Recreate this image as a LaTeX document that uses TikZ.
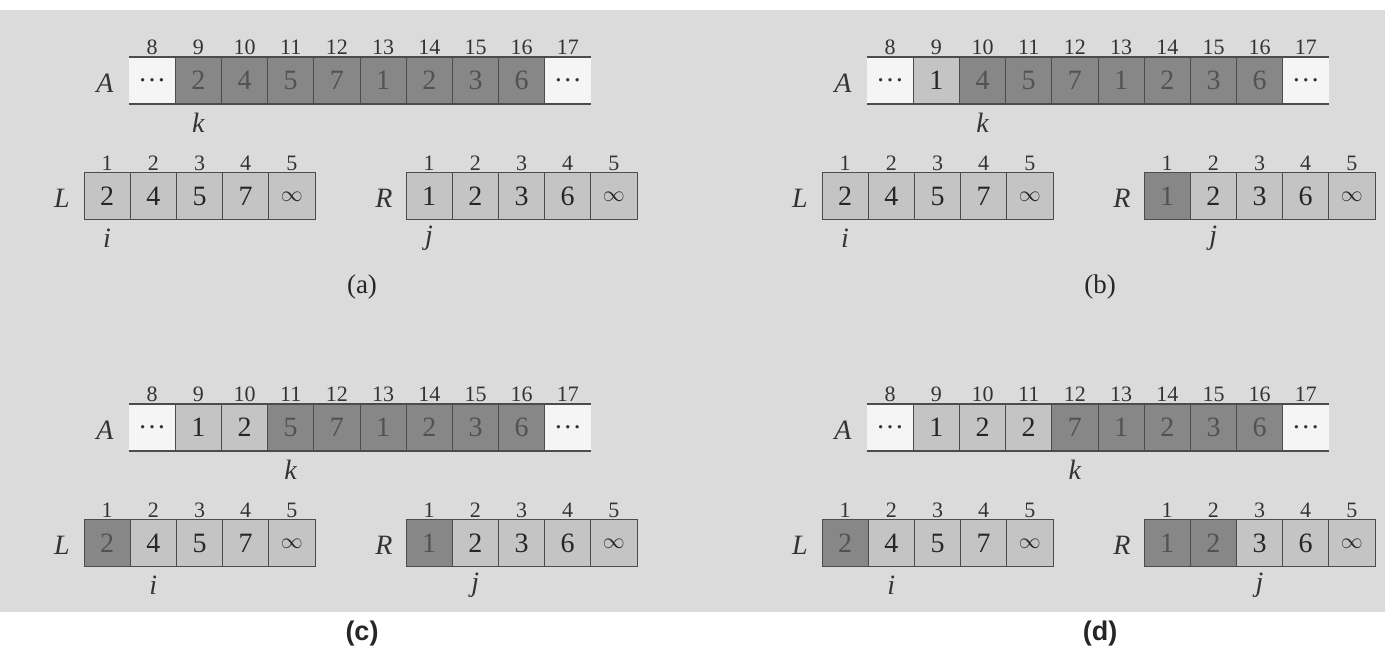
\documentclass[tikz,border=0pt]{standalone}
\usepackage{fontspec}
\setmainfont{Liberation Serif}
\setsansfont{Liberation Sans}
\usepackage{tikz}
\usetikzlibrary{positioning}

\definecolor{paper}{gray}{0.86}
\definecolor{darkcell}{gray}{0.53}
\definecolor{lightcell}{gray}{0.77}
\definecolor{blankcell}{gray}{0.96}
\definecolor{rule}{gray}{0.3}

\newcommand\sentinel{{\fontsize{11}{11}\selectfont$\infty$}}

\tikzset{
  cell/.style={minimum width=23.1pt,minimum height=23.5pt,inner sep=0pt,outer sep=0pt,
    font=\fontsize{14}{14}\selectfont},
  dark/.style={cell,draw=rule,line width=0.5pt,fill=darkcell,text=black!68},
  light/.style={cell,draw=rule,line width=0.5pt,fill=lightcell,text=black!85},
  blank/.style={cell,fill=blankcell,text=black!80},
  idx/.style={font=\fontsize{11}{11}\selectfont,text=black!80,inner sep=0pt},
  arrname/.style={font=\fontsize{14}{14}\selectfont\itshape,text=black!80,inner sep=0pt},
  ptr/.style={font=\fontsize{14}{14}\selectfont\itshape,text=black!80,inner sep=0pt},
  caption/.style={font=\fontsize{13.5}{14}\selectfont,text=black!85,inner sep=0pt},
}

% #1 name, #2 #3 corner, #4 A values, #5 copied so far, #6 L used, #7 R used, #8 caption
\newcommand\mergestep[8]{%
  \begin{scope}[shift={(#2,#3)}]
    % array A
    \node[blank] (#1-Al) at (23.1,23.5) {\ldots};
    \foreach \v [count=\c] in {#4} {
      \ifnum\c>#5 \def\sh{dark}\else\def\sh{light}\fi
      \node[\sh] (#1-A\c) at ({23.1+46.2*\c},23.5) {\v};
    }
    \node[blank] (#1-Ar) at (438.9,23.5) {\ldots};
    \draw[rule,line width=0.6pt] (#1-Al.north west) -- (#1-Ar.north east)
      (#1-Al.south west) -- (#1-Ar.south east);
    \foreach \n [count=\c from 0] in {8,...,17}
      \node[idx] (#1-n\n) at ({23.1+46.2*\c},-10) {\n};
    \node[arrname] (#1-A) at (-24,26) {A};
    \node[ptr] (#1-k) at ({23.1+46.2*(#5+1)},66) {k};
    % arrays L and R
    \foreach \v [count=\c] in {2,4,5,7,\sentinel} {
      \ifnum\c>#6 \def\sh{light}\else\def\sh{dark}\fi
      \node[\sh] (#1-L\c) at ({-21.9+46.2*(\c-1)},139.5) {\v};
      \node[idx] (#1-l\c) at ({-21.9+46.2*(\c-1)},106) {\c};
    }
    \foreach \v [count=\c] in {1,2,3,6,\sentinel} {
      \ifnum\c>#7 \def\sh{light}\else\def\sh{dark}\fi
      \node[\sh] (#1-R\c) at ({300.1+46.2*(\c-1)},139.5) {\v};
      \node[idx] (#1-r\c) at ({300.1+46.2*(\c-1)},106) {\c};
    }
    \node[arrname] (#1-L) at (-67,141) {L};
    \node[arrname] (#1-R) at (255,141) {R};
    \node[ptr] (#1-i) at ({-21.9+46.2*#6},181) {i};
    \node[ptr] (#1-j) at ({300.1+46.2*#7},181) {j};
    \node[caption] (#1-cap) at (233,230) {#8};
  \end{scope}}

\begin{document}
\begin{tikzpicture}[x=0.5pt,y=-0.5pt]
  \useasboundingbox[fill=white] (0,0) rectangle (1389,656);
  \fill[paper] (0,10) rectangle (1385,612);
  \mergestep{a}{129}{57}{2,4,5,7,1,2,3,6}{0}{0}{0}{(a)}
  \mergestep{b}{867}{57}{1,4,5,7,1,2,3,6}{1}{0}{1}{(b)}
  \mergestep{c}{129}{404}{1,2,5,7,1,2,3,6}{2}{1}{1}{\sffamily\bfseries (c)}
  \mergestep{d}{867}{404}{1,2,2,7,1,2,3,6}{3}{1}{2}{\sffamily\bfseries (d)}
\end{tikzpicture}
\end{document}
